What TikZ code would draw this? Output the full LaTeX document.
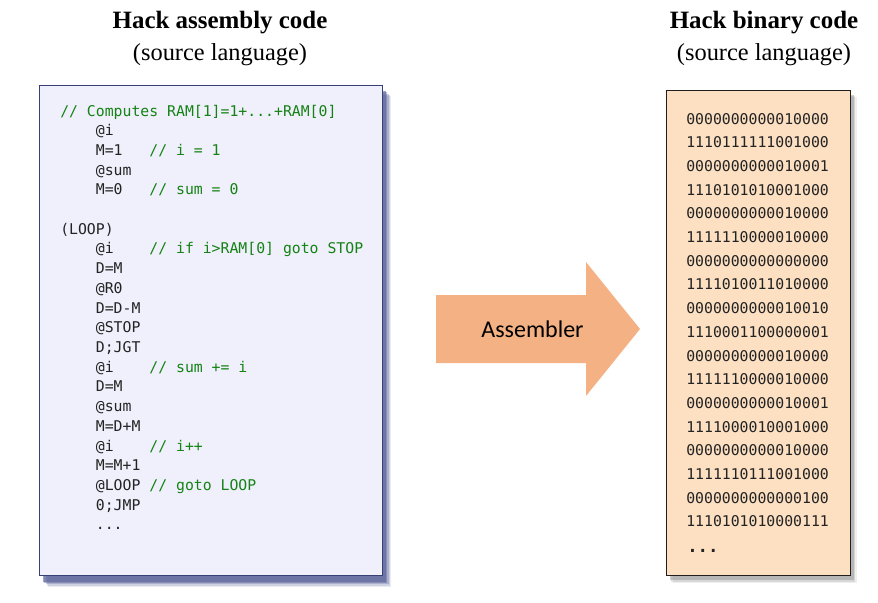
\documentclass[tikz,border=0pt]{standalone}
\usepackage{fontspec}
\setmainfont{Liberation Serif}
\setmonofont{DejaVu Sans Mono}
\newfontfamily\calibrifont{Carlito}
\usetikzlibrary{shadows}
\definecolor{asmfill}{RGB}{240, 240, 252}
\definecolor{asmborder}{RGB}{55, 65, 115}
\definecolor{asmshadow}{RGB}{90, 100, 155}
\definecolor{binfill}{RGB}{253, 224, 194}
\definecolor{binborder}{RGB}{35, 30, 30}
\definecolor{binshadow}{RGB}{120, 120, 120}
\definecolor{arrowfill}{RGB}{244, 177, 131}
\definecolor{commentgreen}{RGB}{20, 130, 20}
\definecolor{codegray}{RGB}{35, 35, 35}
\newcommand{\cmt}[1]{\textcolor{commentgreen}{#1}}

\begin{document}
\begin{tikzpicture}[
    x=0.75pt, y=-0.75pt,
    title/.style={anchor=base, inner sep=0pt, font=\bfseries\fontsize{18.7}{22}\selectfont},
    subtitle/.style={anchor=base, inner sep=0pt, font=\fontsize{18.3}{22}\selectfont},
    codebox/.style={rectangle, anchor=north west, inner sep=0pt, line width=0.9pt},
    asmbox/.style={codebox, draw=asmborder, fill=asmfill,
        drop shadow={shadow xshift=7pt, shadow yshift=-8.5pt, fill=asmshadow, opacity=0.12},
        drop shadow={shadow xshift=6pt, shadow yshift=-7.5pt, fill=asmshadow, opacity=0.2},
        drop shadow={shadow xshift=5pt, shadow yshift=-6.5pt, fill=asmshadow, opacity=0.3},
        drop shadow={shadow xshift=4pt, shadow yshift=-5.5pt, fill=asmshadow, opacity=0.45},
        drop shadow={shadow xshift=3pt, shadow yshift=-4.5pt, fill=asmshadow, opacity=0.6}},
    binbox/.style={codebox, draw=binborder, fill=binfill,
        drop shadow={shadow xshift=4.5pt, shadow yshift=-5.5pt, fill=binshadow, opacity=0.12},
        drop shadow={shadow xshift=3.5pt, shadow yshift=-4.5pt, fill=binshadow, opacity=0.2},
        drop shadow={shadow xshift=2.5pt, shadow yshift=-3.5pt, fill=binshadow, opacity=0.35}},
    code/.style={anchor=base west, inner sep=0pt, text=codegray, font=\ttfamily\fontsize{11.1}{13}\selectfont},
    arrowlabel/.style={anchor=base, inner sep=0pt, font=\calibrifont\fontsize{18}{21}\selectfont}
]
\useasboundingbox (0,0) rectangle (878,603);

% Titles
\node[title] (asmtitle) at (220, 28) {Hack assembly code};
\node[subtitle] (asmsub) at (220, 60) {(source language)};
\node[title] (bintitle) at (764, 28) {Hack binary code};
\node[subtitle] (binsub) at (764, 60) {(source language)};

% Boxes
\node[asmbox, minimum width=257.25pt, minimum height=367.9pt] (asm) at (38.5, 84.5) {};
\node[binbox, minimum width=138pt, minimum height=364.1pt] (bin) at (666, 89.5) {};

% Assembly program
\foreach \r/\ln in {
    0/{\cmt{// Computes RAM[1]=1+...+RAM[0]}},
    1/{~~~~@i},
    2/{~~~~M=1~~~\cmt{// i = 1}},
    3/{~~~~@sum},
    4/{~~~~M=0~~~\cmt{// sum = 0}},
    6/{(LOOP)},
    7/{~~~~@i~~~~\cmt{// if i>RAM[0] goto STOP}},
    8/{~~~~D=M},
    9/{~~~~@R0},
    10/{~~~~D=D-M},
    11/{~~~~@STOP},
    12/{~~~~D;JGT},
    13/{~~~~@i~~~~\cmt{// sum += i}},
    14/{~~~~D=M},
    15/{~~~~@sum},
    16/{~~~~M=D+M},
    17/{~~~~@i~~~~\cmt{// i++}},
    18/{~~~~M=M+1},
    19/{~~~~@LOOP~\cmt{// goto LOOP}},
    20/{~~~~0;JMP},
    21/{~~~~...}}
    \node[code] (asm\r) at (60, 116+19.71*\r) {\ln};

% Binary program
\foreach \bits [count=\k from 0] in {
    0000000000010000, 1110111111001000, 0000000000010001, 1110101010001000,
    0000000000010000, 1111110000010000, 0000000000000000, 1111010011010000,
    0000000000010010, 1110001100000001, 0000000000010000, 1111110000010000,
    0000000000010001, 1111000010001000, 0000000000010000, 1111110111001000,
    0000000000000100, 1110101010000111}
    \node[code] (bin\k) at (686, 124+23.7*\k) {\bits};
\node[code, font=\ttfamily\bfseries\fontsize{13}{15}\selectfont] (bindots) at (687, 552) {...};

% Assembler arrow
\fill[arrowfill] (436, 295) -- (586, 295) -- (586, 262) -- (640, 329)
    -- (586, 396) -- (586, 363) -- (436, 363) -- cycle;
\node[arrowlabel] (assembler) at (532.5, 337.3) {Assembler};

\end{tikzpicture}
\end{document}
